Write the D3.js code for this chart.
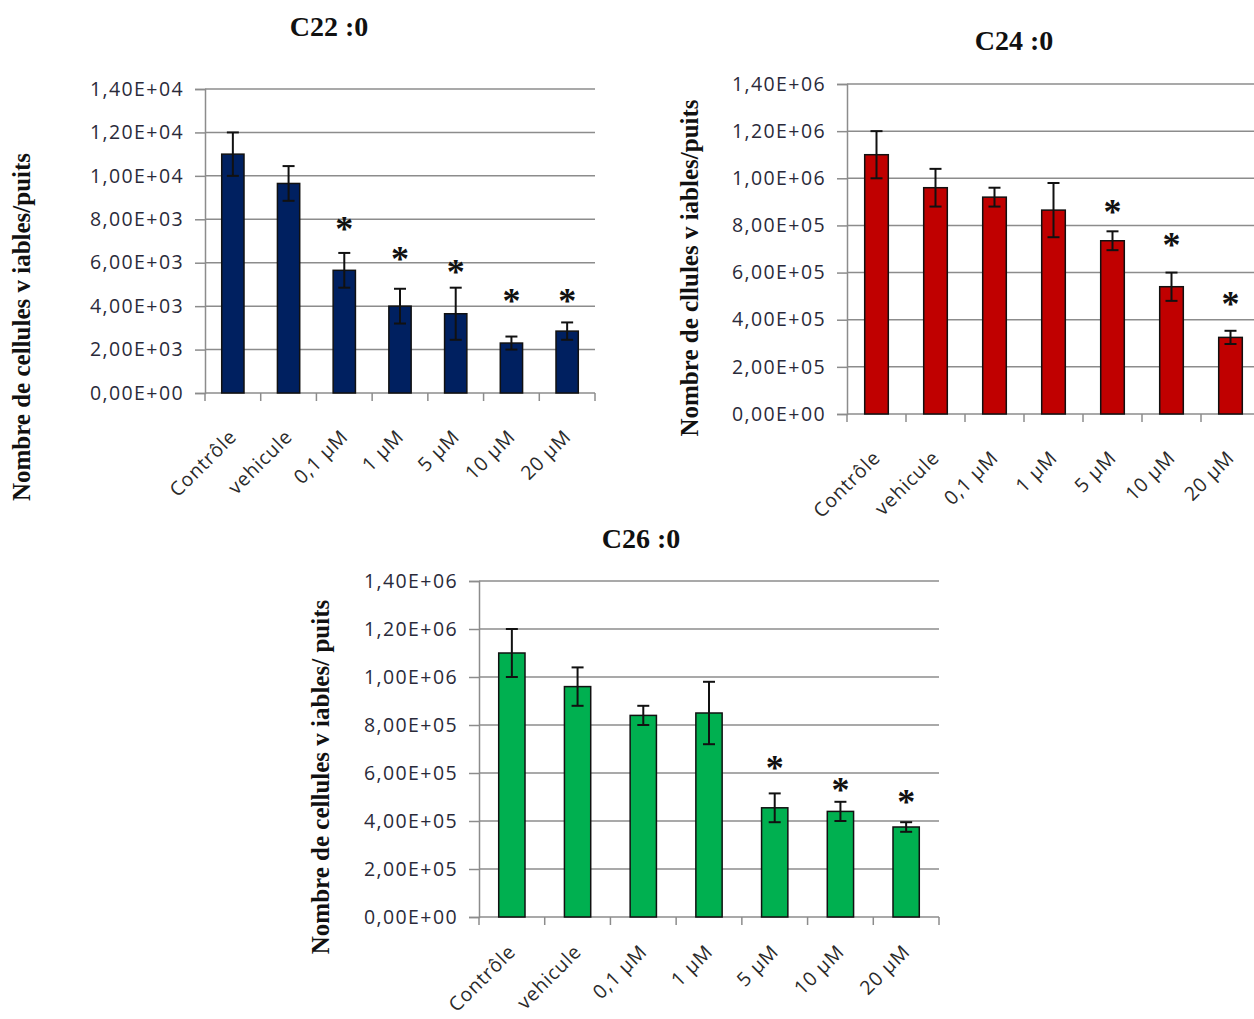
<!DOCTYPE html>
<html>
<head>
<meta charset="utf-8">
<script src="https://cdn.jsdelivr.net/npm/d3@7"></script>
<style>
  html, body { margin: 0; padding: 0; background: #fff; }
  svg { display: block; }
</style>
</head>
<body>
<svg id="chart" width="1254" height="1019"></svg>
<script>
// ---------- data ----------
const categories = ["Contrôle", "vehicule", "0,1 µM", "1 µM", "5 µM", "10 µM", "20 µM"];

const c22Values = [11000, 9650, 5650, 4000, 3650, 2300, 2850];
const c22Errors = [1000, 800, 800, 800, 1200, 300, 400];
const c22Stars  = [null, null, 7800, 6400, 5800, 4450, 4450];
const c22Ticks  = [0, 2000, 4000, 6000, 8000, 10000, 12000, 14000];
const c22TickLabels = ["0,00E+00", "2,00E+03", "4,00E+03", "6,00E+03", "8,00E+03", "1,00E+04", "1,20E+04", "1,40E+04"];

const c24Values = [1100000, 960000, 920000, 865000, 735000, 540000, 325000];
const c24Errors = [100000, 80000, 40000, 115000, 40000, 60000, 28000];
const c24Stars  = [null, null, null, null, 880000, 740000, 490000];
const c24Ticks  = [0, 200000, 400000, 600000, 800000, 1000000, 1200000, 1400000];
const c24TickLabels = ["0,00E+00", "2,00E+05", "4,00E+05", "6,00E+05", "8,00E+05", "1,00E+06", "1,20E+06", "1,40E+06"];

const c26Values = [1100000, 960000, 840000, 850000, 455000, 440000, 375000];
const c26Errors = [100000, 80000, 40000, 130000, 60000, 40000, 20000];
const c26Stars  = [null, null, null, null, 640000, 550000, 500000];
const c26Ticks  = c24Ticks;
const c26TickLabels = c24TickLabels;

const titles = ["C22 :0", "C24 :0", "C26 :0"];
const yTitles = ["Nombre de cellules v iables/puits", "Nombre de cllules v iables/puits", "Nombre de cellules v iables/ puits"];
const colors = ["#002060", "#C00000", "#00B050"];

// ---------- layout ----------
const panels = [
  { title: titles[0], yTitle: yTitles[0], color: colors[0], values: c22Values, errors: c22Errors, stars: c22Stars,
    ticks: c22Ticks, tickLabels: c22TickLabels, max: 14000, labelDy: 45,
    x0: 205, x1: 595, yTop: 89, yBot: 393, titleX: 329, titleY: 36, yTitleX: 30, yTitleY: 327 },
  { title: titles[1], yTitle: yTitles[1], color: colors[1], values: c24Values, errors: c24Errors, stars: c24Stars,
    ticks: c24Ticks, tickLabels: c24TickLabels, max: 1400000, labelDy: 45,
    x0: 847, x1: 1260, yTop: 84, yBot: 414, titleX: 1014, titleY: 50, yTitleX: 698, yTitleY: 268 },
  { title: titles[2], yTitle: yTitles[2], color: colors[2], values: c26Values, errors: c26Errors, stars: c26Stars,
    ticks: c26Ticks, tickLabels: c26TickLabels, max: 1400000, labelDy: 36,
    x0: 479, x1: 939, yTop: 581, yBot: 917, titleX: 641, titleY: 548, yTitleX: 329, yTitleY: 777 }
];

const svg = d3.select("#chart");
const sansFont = "'Open Sans', 'Noto Sans', sans-serif";
const serifFont = "'Liberation Serif', 'DejaVu Serif', serif";
const gridColor = "#8c8c8c";

panels.forEach(p => {
  const g = svg.append("g");
  const x = d3.scaleBand().domain(categories).range([p.x0, p.x1]).padding(0);
  const y = d3.scaleLinear().domain([0, p.max]).range([p.yBot, p.yTop]);
  const barW = x.bandwidth() * 0.4;

  // gridlines
  g.append("g").selectAll("line").data(p.ticks.filter(t => t > 0)).join("line")
    .attr("x1", p.x0).attr("x2", p.x1)
    .attr("y1", d => y(d)).attr("y2", d => y(d))
    .attr("stroke", gridColor).attr("stroke-width", 1.5);

  // y axis
  const yAxis = d3.axisLeft(y).tickValues(p.ticks)
    .tickFormat((d, i) => p.tickLabels[i]).tickSize(10).tickPadding(11);
  const ya = g.append("g").attr("transform", `translate(${p.x0},0)`).call(yAxis);
  ya.select(".domain").attr("stroke", gridColor).attr("stroke-width", 1.5);
  ya.selectAll(".tick line").attr("stroke", gridColor).attr("stroke-width", 1.5);
  ya.selectAll(".tick text").attr("font-family", sansFont).attr("font-size", 19.5)
    .attr("letter-spacing", 1.4).attr("fill", "#2a2a3a");

  // x axis
  const boundaries = categories.map(c => x(c)).concat([p.x1]);
  g.append("line").attr("x1", p.x0).attr("x2", p.x1).attr("y1", p.yBot).attr("y2", p.yBot)
    .attr("stroke", gridColor).attr("stroke-width", 1.5);
  g.append("g").selectAll("line").data(boundaries).join("line")
    .attr("x1", d => d).attr("x2", d => d).attr("y1", p.yBot).attr("y2", p.yBot + 8)
    .attr("stroke", gridColor).attr("stroke-width", 1.5);

  // x labels
  g.append("g").selectAll("text").data(categories).join("text")
    .attr("transform", d => `translate(${x(d) + x.bandwidth() / 2 + 5},${p.yBot + p.labelDy}) rotate(-45)`)
    .attr("text-anchor", "end")
    .attr("font-family", sansFont).attr("font-size", 19.5).attr("letter-spacing", 0.8)
    .attr("fill", "#2a2a2a")
    .text(d => d);

  // bars
  g.append("g").selectAll("rect").data(p.values).join("rect")
    .attr("x", (d, i) => x(categories[i]) + (x.bandwidth() - barW) / 2)
    .attr("y", d => y(d))
    .attr("width", barW)
    .attr("height", d => p.yBot - y(d))
    .attr("fill", p.color).attr("stroke", "#111").attr("stroke-width", 1.5);

  // error bars
  const eb = g.append("g").attr("stroke", "#111").attr("stroke-width", 2);
  p.values.forEach((v, i) => {
    const cx = x(categories[i]) + x.bandwidth() / 2;
    const hi = y(v + p.errors[i]), lo = y(v - p.errors[i]);
    eb.append("line").attr("x1", cx).attr("x2", cx).attr("y1", hi).attr("y2", lo);
    eb.append("line").attr("x1", cx - 6).attr("x2", cx + 6).attr("y1", hi).attr("y2", hi);
    eb.append("line").attr("x1", cx - 6).attr("x2", cx + 6).attr("y1", lo).attr("y2", lo);
  });

  // stars
  g.append("g").selectAll("text").data(p.stars.map((s, i) => ({ s, i })).filter(d => d.s !== null)).join("text")
    .attr("x", d => x(categories[d.i]) + x.bandwidth() / 2)
    .attr("y", d => y(d.s) + 17)
    .attr("text-anchor", "middle")
    .attr("font-family", serifFont).attr("font-weight", "bold").attr("font-size", 36)
    .attr("fill", "#111")
    .text("*");

  // title
  g.append("text").attr("x", p.titleX).attr("y", p.titleY)
    .attr("text-anchor", "middle")
    .attr("font-family", serifFont).attr("font-weight", "bold").attr("font-size", 28)
    .attr("fill", "#111").text(p.title);

  // y title
  g.append("text")
    .attr("transform", `translate(${p.yTitleX},${p.yTitleY}) rotate(-90)`)
    .attr("text-anchor", "middle")
    .attr("font-family", serifFont).attr("font-weight", "bold").attr("font-size", 25)
    .attr("fill", "#111").text(p.yTitle);
});
</script>
</body>
</html>
